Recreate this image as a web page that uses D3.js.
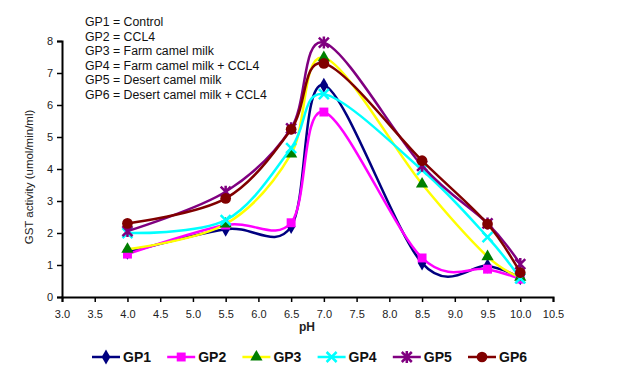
<html>
  <head>
    <style type="text/css">
      body { margin: 0; background: #fff; }
      text { font-family: "Liberation Sans", Arial, sans-serif; }
    </style>
    <script src="https://d3js.org/d3.v7.min.js"></script>
  </head>
  <body>
    <svg class="chart" width="618" height="384"></svg>
    <script>

// data
var ph = [4.0, 5.5, 6.5, 7.0, 8.5, 9.5, 10.0];
var gp1 = [1.40, 2.12, 2.20, 6.62, 1.06, 0.97, 0.60];
var gp2 = [1.34, 2.25, 2.32, 5.78, 1.22, 0.87, 0.56];
var gp3 = [1.49, 2.28, 4.47, 7.48, 3.53, 1.26, 0.62];
var gp4 = [2.00, 2.40, 4.65, 6.34, 3.97, 1.87, 0.58];
var gp5 = [2.06, 3.29, 5.27, 7.95, 4.10, 2.30, 1.03];
var gp6 = [2.30, 3.08, 5.24, 7.30, 4.26, 2.28, 0.76];
var xTicks = [3.0, 3.5, 4.0, 4.5, 5.0, 5.5, 6.0, 6.5, 7.0, 7.5, 8.0, 8.5, 9.0, 9.5, 10.0, 10.5];
var yTicks = [0, 1, 2, 3, 4, 5, 6, 7, 8];
var notes = ["GP1 = Control", "GP2 = CCL4", "GP3 = Farm camel milk",
             "GP4 = Farm camel milk + CCL4", "GP5 = Desert camel milk",
             "GP6 = Desert camel milk + CCL4"];

var series = [
  {name: "GP1", values: gp1, line: "#000080", fill: "#000080", sym: d3.symbolDiamond, size: 65},
  {name: "GP2", values: gp2, line: "#ff00ff", fill: "#ff00ff", sym: d3.symbolSquare, size: 80},
  {name: "GP3", values: gp3, line: "#ffff00", fill: "#007f00", sym: d3.symbolTriangle, size: 65},
  {name: "GP4", values: gp4, line: "#00ffff", fill: "#00ffff", sym: "x", size: 0},
  {name: "GP5", values: gp5, line: "#800080", fill: "#800080", sym: "star", size: 0},
  {name: "GP6", values: gp6, line: "#800000", fill: "#800000", sym: d3.symbolCircle, size: 90}
];

var svg = d3.select(".chart");

var x = d3.scaleLinear().domain([3.0, 10.5]).range([62, 553]);
var y = d3.scaleLinear().domain([0, 8]).range([297, 41]);

// axes
var xAxis = svg.append("g")
  .attr("transform", "translate(0,297)")
  .call(d3.axisBottom(x).tickValues(xTicks).tickFormat(d3.format(".1f")).tickSizeOuter(0).tickSize(5));
var yAxis = svg.append("g")
  .attr("transform", "translate(62,0)")
  .call(d3.axisLeft(y).tickValues(yTicks).tickSizeOuter(0).tickSize(5));

[xAxis, yAxis].forEach(function(a) {
  a.select(".domain").attr("stroke", "#000").attr("stroke-width", 2);
  a.selectAll(".tick line").attr("stroke", "#000").attr("stroke-width", 1.5);
  a.selectAll(".tick text").attr("fill", "#222").style("font-size", "11px")
    .style("font-family", "'Liberation Sans', Arial, sans-serif");
});
xAxis.selectAll(".tick text").attr("dy", "1.2em");
yAxis.selectAll(".tick text").attr("x", -9);

// axis titles
svg.append("text")
  .attr("x", 307).attr("y", 331)
  .attr("text-anchor", "middle")
  .style("font-size", "12px").style("font-weight", "bold")
  .attr("fill", "#222")
  .text("pH");

svg.append("text")
  .attr("transform", "translate(33,177) rotate(-90)")
  .attr("text-anchor", "middle")
  .style("font-size", "11.5px")
  .attr("fill", "#222")
  .text("GST activity (umol/min/ml)");

// notes
svg.selectAll(".note")
  .data(notes)
  .enter().append("text")
  .attr("class", "note")
  .attr("x", 85)
  .attr("y", function(d, i) { return 26 + i * 14.5; })
  .style("font-size", "12.3px")
  .attr("fill", "#111")
  .text(function(d) { return d; });

function drawMarker(g, s, cx, cy) {
  if (s.sym === "x") {
    g.append("path")
      .attr("d", "M" + (cx - 5) + "," + (cy - 5) + "L" + (cx + 5) + "," + (cy + 5) +
                 "M" + (cx - 5) + "," + (cy + 5) + "L" + (cx + 5) + "," + (cy - 5))
      .attr("stroke", s.fill).attr("stroke-width", 2.5).attr("fill", "none");
  } else if (s.sym === "star") {
    g.append("path")
      .attr("d", "M" + (cx - 5) + "," + (cy - 5) + "L" + (cx + 5) + "," + (cy + 5) +
                 "M" + (cx - 5) + "," + (cy + 5) + "L" + (cx + 5) + "," + (cy - 5) +
                 "M" + cx + "," + (cy - 6) + "L" + cx + "," + (cy + 6))
      .attr("stroke", s.fill).attr("stroke-width", 2.5).attr("fill", "none");
  } else {
    g.append("path")
      .attr("d", d3.symbol().type(s.sym).size(s.size)())
      .attr("transform", "translate(" + cx + "," + cy + ")")
      .attr("fill", s.fill);
  }
}

// Excel-style smoothing: uniform Catmull-Rom
var line = d3.line()
  .x(function(d) { return x(d[0]); })
  .y(function(d) { return y(d[1]); })
  .curve(d3.curveCatmullRom.alpha(0));

series.forEach(function(s) {
  var pts = ph.map(function(p, i) { return [p, s.values[i]]; });
  var g = svg.append("g");
  g.append("path")
    .datum(pts)
    .attr("fill", "none")
    .attr("stroke", s.line)
    .attr("stroke-width", 2.5)
    .attr("d", line);
  pts.forEach(function(p) { drawMarker(g, s, x(p[0]), y(p[1])); });
});

// legend
var legend = svg.append("g");
series.forEach(function(s, i) {
  var lx = 92 + i * 75.2, ly = 357;
  var g = legend.append("g");
  g.append("line")
    .attr("x1", lx).attr("x2", lx + 28)
    .attr("y1", ly).attr("y2", ly)
    .attr("stroke", s.line).attr("stroke-width", 2.5);
  drawMarker(g, s, lx + 14, ly);
  g.append("text")
    .attr("x", lx + 31).attr("y", ly + 5)
    .style("font-size", "14px").style("font-weight", "bold")
    .attr("fill", "#111")
    .text(s.name);
});

</script>
  </body>
</html>
